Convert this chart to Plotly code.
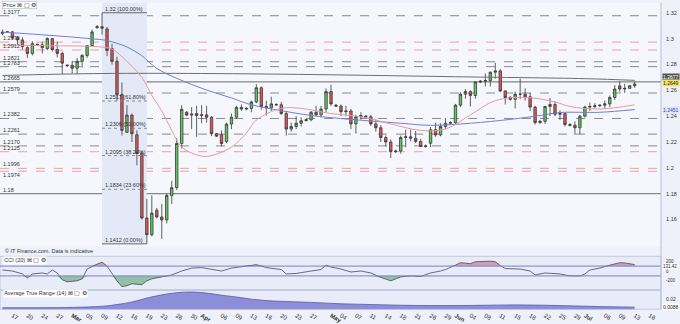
import plotly.graph_objects as go

# ---------------- data ----------------
dates = [
    "2020-02-14","2020-02-16","2020-02-17","2020-02-18","2020-02-19","2020-02-20","2020-02-21",
    "2020-02-23","2020-02-24","2020-02-25","2020-02-26","2020-02-27","2020-02-28",
    "2020-03-01","2020-03-02","2020-03-03","2020-03-04","2020-03-05","2020-03-06",
    "2020-03-08","2020-03-09","2020-03-10","2020-03-11","2020-03-12","2020-03-13",
    "2020-03-15","2020-03-16","2020-03-17","2020-03-18","2020-03-19","2020-03-20",
    "2020-03-22","2020-03-23","2020-03-24","2020-03-25","2020-03-26","2020-03-27",
    "2020-03-29","2020-03-30","2020-03-31","2020-04-01","2020-04-02","2020-04-03",
    "2020-04-05","2020-04-06","2020-04-07","2020-04-08","2020-04-09","2020-04-10",
    "2020-04-12","2020-04-13","2020-04-14","2020-04-15","2020-04-16","2020-04-17",
    "2020-04-19","2020-04-20","2020-04-21","2020-04-22","2020-04-23","2020-04-24",
    "2020-04-26","2020-04-27","2020-04-28","2020-04-29","2020-04-30","2020-05-01",
    "2020-05-03","2020-05-04","2020-05-05","2020-05-06","2020-05-07","2020-05-08",
    "2020-05-10","2020-05-11","2020-05-12","2020-05-13","2020-05-14","2020-05-15",
    "2020-05-17","2020-05-18","2020-05-19","2020-05-20","2020-05-21","2020-05-22",
    "2020-05-24","2020-05-26","2020-05-27","2020-05-28","2020-05-29",
    "2020-05-31","2020-06-01","2020-06-02","2020-06-03","2020-06-04","2020-06-05",
    "2020-06-07","2020-06-08","2020-06-09","2020-06-10","2020-06-11","2020-06-12",
    "2020-06-14","2020-06-15","2020-06-16","2020-06-17","2020-06-18","2020-06-19",
    "2020-06-21","2020-06-22","2020-06-23","2020-06-24","2020-06-25","2020-06-26",
    "2020-06-28","2020-06-29","2020-06-30","2020-07-01","2020-07-02","2020-07-03",
    "2020-07-05","2020-07-06","2020-07-07","2020-07-08","2020-07-09","2020-07-10",
    "2020-07-12","2020-07-13",
]
open_ = [
    1.3040,1.3050,1.3052,1.3006,1.2990,1.2930,1.2885,
    1.2955,1.2952,1.2923,1.3000,1.2915,1.2885,
    1.2790,1.2794,1.2771,1.2824,1.2870,1.2945,
    1.3085,1.3092,1.3075,1.2923,1.2824,1.2567,
    1.2275,1.2408,1.2256,1.2112,1.1612,1.1483,
    1.1672,1.1620,1.1597,1.1786,1.1847,1.2188,
    1.2430,1.2408,1.2420,1.2405,1.2410,1.2392,
    1.2264,1.2256,1.2203,1.2339,1.2392,1.2468,
    1.2455,1.2460,1.2510,1.2620,1.2475,1.2465,
    1.2490,1.2488,1.2420,1.2300,1.2320,1.2345,
    1.2365,1.2372,1.2430,1.2410,1.2455,1.2590,
    1.2485,1.2478,1.2435,1.2440,1.2340,1.2395,
    1.2400,1.2395,1.2340,1.2310,1.2235,1.2200,
    1.2125,1.2130,1.2235,1.2240,1.2230,1.2205,
    1.2165,1.2190,1.2295,1.2255,1.2320,
    1.2345,1.2350,1.2485,1.2570,1.2590,1.2560,
    1.2665,1.2670,1.2675,1.2740,1.2750,1.2595,
    1.2545,1.2530,1.2570,1.2570,1.2550,1.2470,
    1.2350,1.2360,1.2475,1.2490,1.2415,1.2420,
    1.2335,1.2330,1.2310,1.2400,1.2470,1.2475,
    1.2480,1.2485,1.2495,1.2545,1.2635,1.2610,
    1.2615,1.2635,
]
high = [
    1.3070,1.3058,1.3060,1.3020,1.3010,1.2940,1.2980,
    1.2962,1.2975,1.3010,1.3005,1.2975,1.2900,
    1.2800,1.2825,1.2850,1.2880,1.2950,1.3070,
    1.3105,1.3200,1.3090,1.2960,1.2860,1.2660,
    1.2485,1.2420,1.2290,1.2130,1.1760,1.1786,
    1.1690,1.1720,1.1800,1.1900,1.2230,1.2485,
    1.2440,1.2470,1.2480,1.2485,1.2480,1.2400,
    1.2270,1.2290,1.2350,1.2420,1.2480,1.2490,
    1.2470,1.2520,1.2647,1.2630,1.2520,1.2550,
    1.2500,1.2510,1.2440,1.2350,1.2400,1.2390,
    1.2380,1.2440,1.2480,1.2480,1.2615,1.2643,
    1.2495,1.2490,1.2480,1.2455,1.2410,1.2430,
    1.2410,1.2410,1.2375,1.2330,1.2250,1.2220,
    1.2140,1.2250,1.2295,1.2295,1.2285,1.2225,
    1.2180,1.2315,1.2350,1.2345,1.2385,
    1.2360,1.2495,1.2585,1.2610,1.2600,1.2670,
    1.2680,1.2730,1.2745,1.2813,1.2765,1.2600,
    1.2555,1.2590,1.2690,1.2615,1.2580,1.2480,
    1.2370,1.2480,1.2540,1.2515,1.2445,1.2430,
    1.2345,1.2360,1.2410,1.2480,1.2505,1.2500,
    1.2490,1.2520,1.2560,1.2640,1.2670,1.2650,
    1.2640,1.2667,
]
low = [
    1.3025,1.3044,1.2995,1.2955,1.2915,1.2850,1.2870,
    1.2945,1.2885,1.2910,1.2900,1.2855,1.2725,
    1.2780,1.2730,1.2725,1.2775,1.2850,1.2940,
    1.3075,1.3030,1.2865,1.2800,1.2520,1.2250,
    1.2270,1.2200,1.2020,1.1600,1.1412,1.1470,
    1.1610,1.1450,1.1570,1.1720,1.1830,1.2150,
    1.2400,1.2300,1.2240,1.2345,1.2350,1.2245,
    1.2240,1.2165,1.2190,1.2300,1.2380,1.2440,
    1.2445,1.2430,1.2500,1.2450,1.2405,1.2440,
    1.2480,1.2410,1.2250,1.2280,1.2300,1.2320,
    1.2360,1.2360,1.2400,1.2390,1.2430,1.2480,
    1.2470,1.2400,1.2400,1.2300,1.2265,1.2375,
    1.2390,1.2325,1.2280,1.2200,1.2165,1.2075,
    1.2115,1.2110,1.2160,1.2205,1.2190,1.2160,
    1.2155,1.2160,1.2240,1.2245,1.2300,
    1.2335,1.2340,1.2470,1.2535,1.2475,1.2535,
    1.2655,1.2630,1.2630,1.2690,1.2585,1.2490,
    1.2520,1.2460,1.2530,1.2520,1.2440,1.2335,
    1.2340,1.2340,1.2400,1.2400,1.2370,1.2320,
    1.2320,1.2255,1.2260,1.2390,1.2440,1.2460,
    1.2470,1.2455,1.2470,1.2525,1.2590,1.2580,
    1.2610,1.2620,
]
close = [
    1.3050,1.3052,1.3006,1.2990,1.2938,1.2885,1.2960,
    1.2952,1.2930,1.3000,1.2915,1.2885,1.2810,
    1.2794,1.2771,1.2824,1.2870,1.2945,1.3052,
    1.3092,1.3080,1.2908,1.2824,1.2567,1.2290,
    1.2408,1.2264,1.2112,1.1612,1.1483,1.1650,
    1.1620,1.1597,1.1786,1.1847,1.2188,1.2453,
    1.2408,1.2415,1.2405,1.2410,1.2392,1.2264,
    1.2245,1.2188,1.2339,1.2392,1.2468,1.2455,
    1.2460,1.2510,1.2620,1.2475,1.2465,1.2495,
    1.2488,1.2420,1.2300,1.2320,1.2345,1.2365,
    1.2372,1.2430,1.2410,1.2455,1.2590,1.2495,
    1.2478,1.2435,1.2440,1.2340,1.2395,1.2405,
    1.2395,1.2340,1.2310,1.2235,1.2200,1.2125,
    1.2130,1.2235,1.2240,1.2230,1.2205,1.2165,
    1.2170,1.2295,1.2255,1.2320,1.2345,
    1.2350,1.2485,1.2570,1.2590,1.2560,1.2665,
    1.2670,1.2675,1.2740,1.2750,1.2595,1.2545,
    1.2530,1.2570,1.2570,1.2550,1.2470,1.2350,
    1.2360,1.2475,1.2490,1.2415,1.2420,1.2335,
    1.2330,1.2310,1.2400,1.2470,1.2475,1.2480,
    1.2485,1.2495,1.2545,1.2610,1.2610,1.2615,
    1.2635,1.2649,
]

# moving averages (sample points)
ma20_dates = ["2020-02-14","2020-02-25","2020-03-09","2020-03-11","2020-03-13","2020-03-18",
              "2020-03-20","2020-03-23","2020-03-25","2020-03-27","2020-04-01","2020-04-03",
              "2020-04-08","2020-04-12","2020-04-14","2020-04-20","2020-04-24","2020-05-01",
              "2020-05-08","2020-05-15","2020-05-22","2020-05-29","2020-06-04","2020-06-10",
              "2020-06-17","2020-06-24","2020-06-28","2020-07-05","2020-07-13"]
ma20_vals = [1.2950,1.2945,1.2935,1.2920,1.2860,1.2700,
             1.2560,1.2440,1.2290,1.2160,1.2090,1.2095,
             1.2160,1.2270,1.2370,1.2460,1.2460,1.2420,
             1.2395,1.2340,1.2290,1.2300,1.2410,1.2520,
             1.2545,1.2510,1.2475,1.2455,1.2488]

ma50_dates = ["2020-02-14","2020-02-21","2020-03-01","2020-03-06","2020-03-10","2020-03-15",
              "2020-03-18","2020-03-22","2020-03-26","2020-04-02","2020-04-08","2020-04-13",
              "2020-04-20","2020-04-27","2020-05-06","2020-05-18","2020-05-26","2020-06-04",
              "2020-06-14","2020-06-21","2020-06-25","2020-07-05","2020-07-13"]
ma50_vals = [1.3050,1.3035,1.3015,1.2998,1.2985,1.2935,
             1.2867,1.2769,1.2693,1.2602,1.2541,1.2488,
             1.2443,1.2405,1.2375,1.2345,1.2329,1.2345,
             1.2375,1.2405,1.2428,1.2430,1.2451]

ma200_dates = ["2020-02-14","2020-03-09","2020-04-01","2020-05-01","2020-06-01","2020-07-01","2020-07-13"]
ma200_vals = [1.2715,1.2730,1.2730,1.2720,1.2705,1.2690,1.2677]

cci_dates = ["2020-02-14","2020-02-17","2020-02-19","2020-02-20","2020-02-21","2020-02-24",
             "2020-02-25","2020-02-26","2020-02-27","2020-02-28","2020-03-01","2020-03-03",
             "2020-03-04","2020-03-05","2020-03-08","2020-03-09","2020-03-10","2020-03-11",
             "2020-03-12","2020-03-13","2020-03-15","2020-03-16","2020-03-18","2020-03-19",
             "2020-03-20","2020-03-23","2020-03-25","2020-03-27","2020-03-30","2020-04-01",
             "2020-04-03","2020-04-06","2020-04-08","2020-04-10","2020-04-14","2020-04-16",
             "2020-04-20","2020-04-21","2020-04-23","2020-04-27","2020-04-29","2020-04-30",
             "2020-05-01","2020-05-04","2020-05-06","2020-05-08","2020-05-11","2020-05-13",
             "2020-05-14","2020-05-15","2020-05-18","2020-05-20","2020-05-22","2020-05-26",
             "2020-05-28","2020-05-29","2020-06-01","2020-06-02","2020-06-04","2020-06-05",
             "2020-06-09","2020-06-10","2020-06-11","2020-06-12","2020-06-16","2020-06-18",
             "2020-06-19","2020-06-22","2020-06-25","2020-06-28","2020-06-30","2020-07-01",
             "2020-07-02","2020-07-05","2020-07-07","2020-07-09","2020-07-10","2020-07-13"]
cci_vals = [20,0,-60,-140,-60,-40,
            -60,20,-40,-180,-220,-200,
            -160,40,140,180,100,-60,
            -200,-320,-300,-260,-280,-200,
            -160,-120,-80,0,60,70,
            30,0,60,90,130,70,
            30,-60,-50,0,30,120,
            80,40,-20,0,-40,-130,
            -170,-200,-120,-100,-110,-40,
            0,30,120,170,150,190,
            200,190,110,50,40,0,
            -80,-40,-60,-100,-100,-60,
            20,60,120,170,165,131.42]

atr_dates = ["2020-02-14","2020-02-24","2020-03-02","2020-03-09","2020-03-12","2020-03-16",
             "2020-03-19","2020-03-23","2020-03-26","2020-03-30","2020-04-02","2020-04-06",
             "2020-04-09","2020-04-13","2020-04-16","2020-04-20","2020-04-27","2020-05-04",
             "2020-05-11","2020-05-18","2020-05-26","2020-06-01","2020-06-08","2020-06-15",
             "2020-06-22","2020-06-29","2020-07-06","2020-07-13"]
atr_vals = [0.0080,0.0080,0.0085,0.0100,0.0125,0.0160,
            0.0215,0.0260,0.0290,0.0300,0.0285,0.0255,
            0.0230,0.0200,0.0180,0.0170,0.0155,0.0135,
            0.0125,0.0115,0.0110,0.0110,0.0115,0.0120,
            0.0115,0.0105,0.0095,0.0088]

# horizontal levels
level_vals = [1.3177,1.2973,1.2912,1.2821,1.2783,1.2665,1.2579,1.2382,1.2261,1.2170,1.2125,1.1996,1.1974,1.1800]
level_kind = ["grey","pink","pink","grey","grey","solid","grey","grey","grey","grey","pink","pink","pink","solid"]

fib_levels = [1.3200,1.2517,1.2306,1.2095,1.1834,1.1412]
fib_labels = ["1.32 (100.00%)","1.2517 (61.80%)","1.2306 (50.00%)","1.2095 (38.20%)","1.1834 (23.60%)","1.1412 (0.00%)"]
fib_start, fib_end = "2020-03-09", "2020-03-19"

price_ticks = [1.16,1.18,1.2,1.22,1.24,1.26,1.28,1.3,1.32]
price_tick_text = ["1.16","1.18","1.2","1.22","1.24","1.26","1.28","1.3","1.32"]

tick_dates = ["2020-02-17","2020-02-20","2020-02-24","2020-02-27","2020-03-02","2020-03-05","2020-03-09",
              "2020-03-12","2020-03-16","2020-03-19","2020-03-23","2020-03-26","2020-03-30","2020-04-01",
              "2020-04-06","2020-04-09","2020-04-13","2020-04-16","2020-04-20","2020-04-23","2020-04-27",
              "2020-05-01","2020-05-04","2020-05-07","2020-05-11","2020-05-14","2020-05-18","2020-05-21",
              "2020-05-26","2020-05-29","2020-06-01","2020-06-04","2020-06-08","2020-06-11","2020-06-15",
              "2020-06-18","2020-06-22","2020-06-25","2020-06-29","2020-07-01","2020-07-06","2020-07-09",
              "2020-07-13","2020-07-16"]
tick_text = ["17","20","24","27","<b>Mar</b>","05","09","12","16","19","23","26","30","<b>Apr</b>",
             "06","09","13","16","20","23","27","<b>May</b>","04","07","11","14","18","21",
             "26","29","<b>Jun</b>","04","08","11","15","18","22","25","29","<b>Jul</b>","06","09",
             "13","16"]

# ---------------- layout constants ----------------
W, H = 680, 324
XR = 661 / W
def dom(top_px, bot_px):
    return [1 - bot_px / H, 1 - top_px / H]

MAIN = dom(3, 252)
CCI = dom(262, 296)
ATR = dom(297, 316)
FONT = "Liberation Sans, Arial, sans-serif"

fig = go.Figure()

fig.add_trace(go.Candlestick(
    x=dates, open=open_, high=high, low=low, close=close,
    increasing=dict(line=dict(color="#3a3a3a", width=0.8), fillcolor="#5cc85c"),
    decreasing=dict(line=dict(color="#3a3a3a", width=0.8), fillcolor="#e05656"),
    whiskerwidth=0, xaxis="x", yaxis="y", showlegend=False, hoverinfo="skip"))

fig.add_trace(go.Scatter(x=ma200_dates, y=ma200_vals, mode="lines",
                         line=dict(color="#6e6e6e", width=1, shape="spline"), yaxis="y", showlegend=False))
fig.add_trace(go.Scatter(x=ma50_dates, y=ma50_vals, mode="lines",
                         line=dict(color="#6f7fd4", width=1, shape="spline"), yaxis="y", showlegend=False))
fig.add_trace(go.Scatter(x=ma20_dates, y=ma20_vals, mode="lines",
                         line=dict(color="#e59aa2", width=1, shape="spline"), yaxis="y", showlegend=False))

# CCI with fills beyond +/-100
cci_hi = [max(v, 100) for v in cci_vals]
cci_lo = [min(v, -100) for v in cci_vals]
fig.add_trace(go.Scatter(x=cci_dates, y=[100] * len(cci_dates), mode="lines", line=dict(width=0),
                         yaxis="y2", showlegend=False, hoverinfo="skip"))
fig.add_trace(go.Scatter(x=cci_dates, y=cci_hi, mode="lines", line=dict(width=0), fill="tonexty",
                         fillcolor="rgba(196,120,140,0.65)", yaxis="y2", showlegend=False, hoverinfo="skip"))
fig.add_trace(go.Scatter(x=cci_dates, y=[-100] * len(cci_dates), mode="lines", line=dict(width=0),
                         yaxis="y2", showlegend=False, hoverinfo="skip"))
fig.add_trace(go.Scatter(x=cci_dates, y=cci_lo, mode="lines", line=dict(width=0), fill="tonexty",
                         fillcolor="rgba(100,170,125,0.65)", yaxis="y2", showlegend=False, hoverinfo="skip"))
fig.add_trace(go.Scatter(x=cci_dates, y=cci_vals, mode="lines", line=dict(color="#4a4a4a", width=0.8),
                         yaxis="y2", showlegend=False))

fig.add_trace(go.Scatter(x=atr_dates, y=atr_vals, mode="lines", fill="tozeroy",
                         line=dict(color="#5558b0", width=0.8, shape="spline"),
                         fillcolor="#8c8fd8", yaxis="y3", showlegend=False))

shapes = []
shapes.append(dict(type="rect", xref="paper", yref="paper", x0=0, x1=XR, y0=MAIN[0], y1=MAIN[1],
                   fillcolor="#f5f7fc", line=dict(width=0), layer="below"))
for d in (CCI, ATR):
    shapes.append(dict(type="rect", xref="paper", yref="paper", x0=0, x1=XR, y0=d[0], y1=d[1],
                       fillcolor="#e7ecf8", line=dict(color="#b9bfd6", width=0.8), layer="below"))
shapes.append(dict(type="rect", xref="x", yref="y", x0=fib_start, x1=fib_end, y0=fib_levels[-1], y1=1.3276,
                   fillcolor="#e3e9f7", line=dict(width=0), layer="below"))
for v, k in zip(level_vals, level_kind):
    if k == "grey":
        ln = dict(color="#8a8a8a", width=1, dash="dash")
    elif k == "pink":
        ln = dict(color="#e6a3a8", width=1, dash="dash")
    else:
        ln = dict(color="#6a6a6a", width=1)
    shapes.append(dict(type="line", xref="paper", yref="y", x0=0, x1=XR, y0=v, y1=v, line=ln, layer="below"))
for i, v in enumerate(fib_levels):
    solid = i in (0, len(fib_levels) - 1)
    shapes.append(dict(type="line", xref="x", yref="y", x0=fib_start, x1=fib_end, y0=v, y1=v,
                       line=dict(color="#666" if solid else "#888", width=1, dash=None if solid else "dot")))
for v in (100, -100):
    shapes.append(dict(type="line", xref="paper", yref="y2", x0=0, x1=XR, y0=v, y1=v,
                       line=dict(color="#7d7fcf", width=1)))
shapes.append(dict(type="line", xref="paper", yref="paper", x0=XR, x1=XR, y0=ATR[0], y1=MAIN[1],
                   line=dict(color="#b9bfd6", width=1)))

ann = []
small = dict(family=FONT, size=5.5, color="#333")
for i, v in enumerate(level_vals):
    below = (v == 1.1974)
    ann.append(dict(xref="paper", yref="y", x=0.002, y=v, xanchor="left",
                    yanchor="top" if below else "bottom",
                    text=f"{v:.4f}" if v != 1.18 else "1.18", showarrow=False, font=small,
                    yshift=1 if below else -1))
for v, t in zip(fib_levels, fib_labels):
    ann.append(dict(xref="x", yref="y", x=fib_start, y=v, xanchor="left", yanchor="bottom",
                    text=t, showarrow=False, font=small, xshift=1, yshift=-1))

def rlabel(yref, y, text, bg, fg="#222", shift=0, size=5):
    ann.append(dict(xref="paper", yref=yref, x=XR + 0.002, y=y, xanchor="left", yanchor="middle",
                    text=text, showarrow=False, bgcolor=bg, borderpad=0, yshift=shift,
                    font=dict(family=FONT, size=size, color=fg)))

rlabel("y", ma200_vals[-1], f"{ma200_vals[-1]:.4f}", "#555555", "#ffffff", 3)
rlabel("y", close[-1], f"{close[-1]:.4f}", "#f3e36a", shift=1)
rlabel("y", ma50_vals[-1], f"{ma50_vals[-1]:.4f}", "#dfe4fb", "#3b49c2")
rlabel("y2", cci_vals[-1], f"{cci_vals[-1]:.2f}", "#ffffff", shift=-2, size=4.5)
rlabel("y3", atr_vals[-1], f"{atr_vals[-1]:.4f}", "#ffffff")

ann.append(dict(xref="paper", yref="paper", x=0.003, y=1 - 1 / H, xanchor="left", yanchor="top",
                text="Price ⊠ ▢ ⚙", showarrow=False, bgcolor="#ffffff", bordercolor="#aaa", borderwidth=0.5,
                borderpad=0.5, font=small))
ann.append(dict(xref="paper", yref="paper", x=0.004, y=1 - 257 / H, xanchor="left", yanchor="middle",
                text="© IT Finance.com. Data is indicative", showarrow=False, font=small))
ann.append(dict(xref="paper", yref="paper", x=0.004, y=1 - 266 / H, xanchor="left", yanchor="middle",
                text="CCI (20) ⊠ ▢ ⚙", showarrow=False, bgcolor="#ffffff", borderpad=0.3, font=small))
ann.append(dict(xref="paper", yref="paper", x=0.004, y=1 - 300 / H, xanchor="left", yanchor="middle",
                text="Average True Range (14) ⊠ ▢ ⚙", showarrow=False, bgcolor="#ffffff", borderpad=0.3, font=small))

axfont = dict(family=FONT, size=6, color="#333")
fig.update_layout(
    width=W, height=H, margin=dict(l=0, r=0, t=0, b=0),
    paper_bgcolor="#eef1f9", plot_bgcolor="rgba(0,0,0,0)",
    showlegend=False, shapes=shapes, annotations=ann,
    xaxis=dict(domain=[0, XR], anchor="y3", type="date",
               range=["2020-02-13 12:00", "2020-07-19 07:00"],
               rangebreaks=[dict(bounds=["sat", "sun"]), dict(values=["2020-05-25"])],
               tickmode="array", tickvals=tick_dates, ticktext=tick_text, tickfont=axfont,
               showgrid=False, zeroline=False, showline=False, ticks="", ticklabelstandoff=1,
               rangeslider=dict(visible=False), fixedrange=True),
    yaxis=dict(domain=MAIN, anchor="x", side="right", range=[1.1391, 1.3276],
               tickmode="array", tickvals=price_ticks, ticktext=price_tick_text,
               tickfont=dict(family=FONT, size=5.5, color="#333"),
               showgrid=False, zeroline=False, ticks="outside", ticklen=3, tickcolor="rgba(0,0,0,0)"),
    yaxis2=dict(domain=CCI, anchor="x", side="right", range=[-380, 300],
                tickmode="array", tickvals=[200, 0, -200], ticktext=["200", "0", "-200"],
                tickfont=dict(family=FONT, size=4.5, color="#333"),
                showgrid=False, zeroline=False, ticks="outside", ticklen=3, tickcolor="rgba(0,0,0,0)"),
    yaxis3=dict(domain=ATR, anchor="x", side="right", range=[0.006, 0.032],
                tickmode="array", tickvals=[0.02], ticktext=["0.02"],
                tickfont=dict(family=FONT, size=5, color="#333"),
                showgrid=False, zeroline=False, ticks="outside", ticklen=3, tickcolor="rgba(0,0,0,0)"),
)

fig.write_html("out.html")
